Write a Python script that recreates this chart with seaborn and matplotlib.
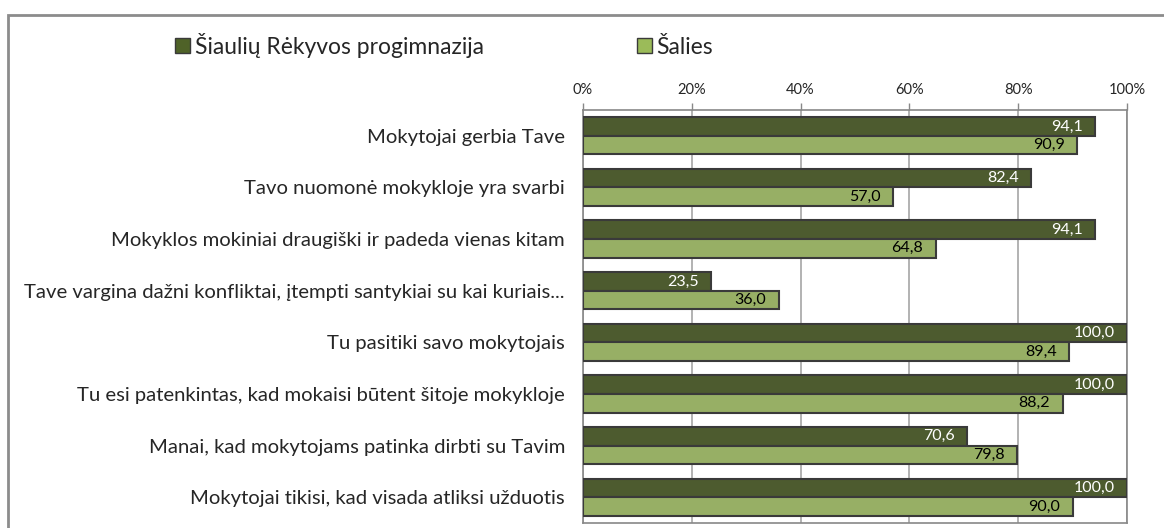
import numpy as np
import pandas as pd
import matplotlib
matplotlib.use("Agg")
import matplotlib.pyplot as plt
import seaborn as sns
from matplotlib.patches import Rectangle, Patch
from matplotlib.ticker import FixedLocator, PercentFormatter

# ── Data ─────────────────────────────────────────────────────────────────────
categories = [
    "Mokytojai gerbia Tave",
    "Tavo nuomonė mokykloje yra svarbi",
    "Mokyklos mokiniai draugiški ir padeda vienas kitam",
    "Tave vargina dažni konfliktai, įtempti santykiai su kai kuriais...",
    "Tu pasitiki savo mokytojais",
    "Tu esi patenkintas, kad mokaisi būtent šitoje mokykloje",
    "Manai, kad mokytojams patinka dirbti su Tavim",
    "Mokytojai tikisi, kad visada atliksi užduotis",
]
school_values  = [94.1, 82.4, 94.1, 23.5, 100.0, 100.0, 70.6, 100.0]
country_values = [90.9, 57.0, 64.8, 36.0, 89.4, 88.2, 79.8, 90.0]
series_names   = ["Šiaulių Rėkyvos progimnazija", "Šalies"]
x_ticks        = [0, 20, 40, 60, 80, 100]

DARK  = "#4F6228"
LIGHT = "#9BBB59"
EDGE  = "#3a3a3a"

df = pd.DataFrame({
    "category": categories * 2,
    "value": school_values + country_values,
    "series": [series_names[0]] * len(categories) + [series_names[1]] * len(categories),
})

sns.set_style("white")
plt.rcParams["font.family"] = ["Lato", "DejaVu Sans"]

fig = plt.figure(figsize=(11.64, 5.28), dpi=100)
ax = fig.add_axes([583 / 1164, 1 - 523 / 528, 544 / 1164, 413 / 528])

sns.barplot(
    data=df, y="category", x="value", hue="series", orient="h",
    palette=[DARK, LIGHT], width=0.72, edgecolor=EDGE, linewidth=1.5,
    legend=False, ax=ax, zorder=3,
)

ax.set_xlim(0, 100)
ax.set_ylim(len(categories) - 0.5, -0.5)
ax.set_xlabel("")
ax.set_ylabel("")

# value labels, right-aligned just inside the bar end
for cont, tcol in zip(ax.containers, ["white", "black"]):
    labels = [f"{v:.1f}".replace(".", ",") for v in cont.datavalues]
    for t in ax.bar_label(cont, labels=labels, padding=-9, color=tcol,
                          fontsize=11.5):
        t.set_ha("right")

# axes styling
ax.xaxis.tick_top()
ax.xaxis.set_major_locator(FixedLocator(x_ticks))
ax.xaxis.set_major_formatter(PercentFormatter(decimals=0))
ax.tick_params(axis="x", direction="out", length=5, width=1, color="#888888",
               labelsize=10.5, pad=4)
ax.grid(axis="x", color="#a6a6a6", linewidth=1.2, zorder=0)
ax.set_axisbelow(True)

ax.tick_params(axis="y", which="major", length=0, labelsize=14.6, pad=13)
ax.yaxis.set_minor_locator(FixedLocator(np.arange(len(categories) + 1) - 0.5))
ax.tick_params(axis="y", which="minor", length=6, width=1, color="#888888",
               direction="out")

for name, sp in ax.spines.items():
    sp.set_visible(True)
    sp.set_color("#888888")
    sp.set_linewidth(1.2)

# legend
handles = [Patch(facecolor=DARK, edgecolor=EDGE), Patch(facecolor=LIGHT, edgecolor=EDGE)]
fig.legend(handles, series_names, loc="center left",
           bbox_to_anchor=(166 / 1164, 1 - 45 / 528), ncol=2, frameon=False,
           fontsize=16.5, handlelength=0.65, handleheight=0.65, handletextpad=0.2,
           columnspacing=6.7, borderaxespad=0)

# outer chart frame
fig.patches.append(Rectangle((8 / 1164, -0.05), 1.1, 1 - 15 / 528 + 0.05,
                             transform=fig.transFigure, fill=False,
                             edgecolor="#8c8c8c", linewidth=2))

fig.savefig("out.png", dpi=100)
